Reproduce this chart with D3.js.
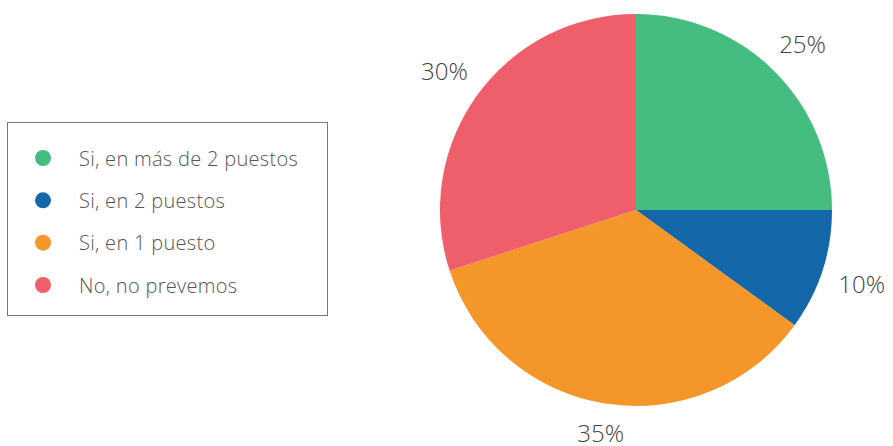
<!DOCTYPE html>
<html lang="es">
<head>
<meta charset="UTF-8">
<script src="https://d3js.org/d3.v7.min.js"></script>
<style>
  html, body { margin: 0; padding: 0; background: #fff; }
  svg { display: block; font-family: "Open Sans", Lato, sans-serif; font-weight: 300; }
</style>
</head>
<body>
<svg width="893" height="446"></svg>
<script>
// datos
const categories = ["Si, en más de 2 puestos", "Si, en 2 puestos", "Si, en 1 puesto", "No, no prevemos"];
const values = [25, 10, 35, 30];
const colors = ["#45bc80", "#1467a8", "#f5962a", "#ef5f6b"];

const svg = d3.select("svg");

const cx = 636, cy = 210, radius = 196, labelOffset = 16;

const pie = d3.pie().sort(null).value(d => d.value);
const data = categories.map((c, i) => ({ name: c, value: values[i], color: colors[i] }));
const arcs = pie(data);

const arc = d3.arc().innerRadius(0).outerRadius(radius);

const g = svg.append("g").attr("transform", `translate(${cx},${cy})`);

g.selectAll("path")
  .data(arcs)
  .enter()
  .append("path")
  .attr("d", arc)
  .attr("fill", d => d.data.color);

// etiquetas fuera del borde, separadas segun el tamaño del texto
const total = d3.sum(values);
g.selectAll("text")
  .data(arcs)
  .enter()
  .append("text")
  .attr("text-anchor", "middle")
  .attr("dominant-baseline", "central")
  .attr("font-size", 24)
  .attr("fill", "#444")
  .text(d => Math.round(d.data.value / total * 100) + "%")
  .each(function (d) {
    const a = (d.startAngle + d.endAngle) / 2;
    const b = this.getBBox();
    const ext = Math.abs(b.width / 2 * Math.sin(a)) + Math.abs(b.height * 0.3 * Math.cos(a));
    const r = radius + labelOffset + ext;
    d3.select(this)
      .attr("x", r * Math.sin(a))
      .attr("y", -r * Math.cos(a));
  });

// leyenda
const legend = svg.append("g");
legend.append("rect")
  .attr("x", 7.5).attr("y", 122.5)
  .attr("width", 320).attr("height", 193)
  .attr("fill", "none")
  .attr("stroke", "#777")
  .attr("stroke-width", 1);

const ly = d3.scalePoint().domain(categories).range([158, 285]);

const items = legend.selectAll(".item")
  .data(data)
  .enter()
  .append("g")
  .attr("transform", d => `translate(43,${ly(d.name)})`);

items.append("circle")
  .attr("r", 8)
  .attr("fill", d => d.color);

items.append("text")
  .attr("x", 36)
  .attr("dominant-baseline", "central")
  .attr("font-size", 20)
  .attr("letter-spacing", 0.3)
  .attr("fill", "#555")
  .text(d => d.name);
</script>
</body>
</html>
